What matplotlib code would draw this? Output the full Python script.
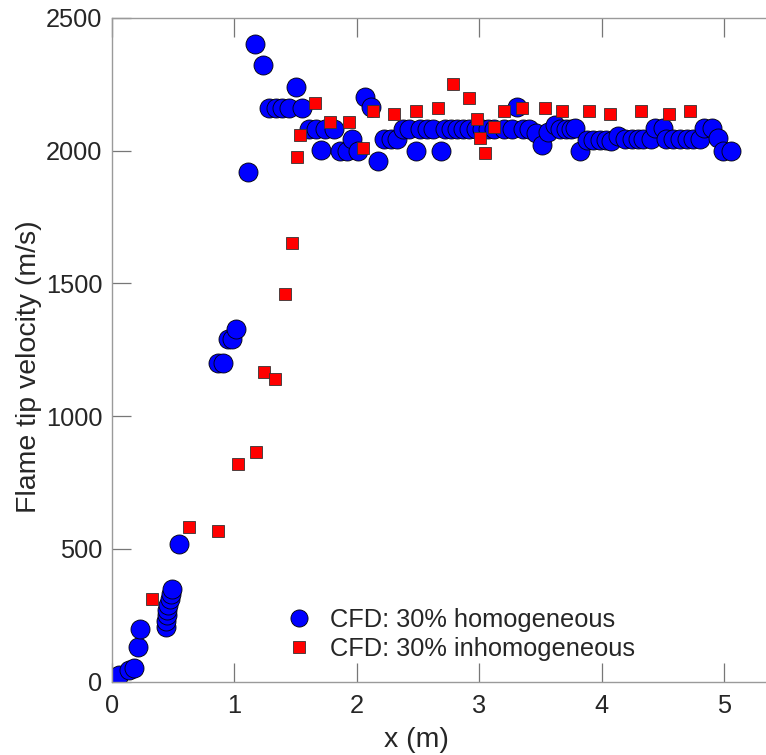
import numpy as np
import matplotlib.pyplot as plt

# homogeneous case (blue circles)
x_hom = [0.06, 0.14, 0.18, 0.21, 0.23,
         0.44, 0.44, 0.45, 0.45, 0.46, 0.47, 0.48, 0.49,
         0.55,
         0.87, 0.91, 0.95, 0.98, 1.01,
         1.11, 1.17, 1.23,
         1.28, 1.34, 1.39, 1.45, 1.50, 1.55,
         1.61, 1.67, 1.71, 1.74, 1.81, 1.86, 1.92, 1.96, 2.01, 2.07, 2.12, 2.17,
         2.22, 2.28, 2.33, 2.38, 2.43, 2.48, 2.52, 2.57, 2.62, 2.69, 2.72, 2.77,
         2.82, 2.87, 2.92, 2.97, 3.02, 3.07, 3.12, 3.20, 3.27, 3.31, 3.36, 3.41,
         3.46, 3.51, 3.56, 3.62, 3.66, 3.71, 3.75, 3.78, 3.82, 3.88, 3.93, 3.99,
         4.04, 4.08, 4.13, 4.19, 4.25, 4.30, 4.34, 4.40, 4.44, 4.50, 4.53, 4.58,
         4.64, 4.70, 4.75, 4.80, 4.84, 4.90, 4.95, 4.99, 5.06]
v_hom = [25, 42, 52, 130, 197,
         205, 228, 250, 270, 290, 310, 330, 348,
         517,
         1200, 1200, 1290, 1290, 1328,
         1920, 2402, 2323,
         2161, 2161, 2161, 2161, 2240, 2161,
         2082, 2082, 2002, 2082, 2082, 2000, 2000, 2043, 2000, 2203, 2165, 1960,
         2043, 2043, 2043, 2082, 2082, 2000, 2082, 2082, 2082, 2000, 2082, 2082,
         2082, 2082, 2082, 2082, 2082, 2082, 2082, 2082, 2082, 2163, 2082, 2082,
         2066, 2020, 2070, 2095, 2082, 2082, 2082, 2084, 2000, 2040, 2040, 2040,
         2040, 2035, 2055, 2043, 2043, 2043, 2043, 2043, 2085, 2085, 2043, 2043,
         2043, 2043, 2043, 2043, 2085, 2085, 2047, 2000, 2000]

# inhomogeneous case (red squares)
x_inh = [0.33, 0.63, 0.87, 1.03, 1.18, 1.24, 1.33, 1.41, 1.47, 1.51, 1.54,
         1.66, 1.78, 1.94, 2.05, 2.13, 2.30, 2.48, 2.66, 2.79, 2.92, 2.98,
         3.01, 3.05, 3.12, 3.20, 3.35, 3.54, 3.68, 3.90, 4.07, 4.32, 4.55, 4.72]
v_inh = [311, 583, 567, 820, 866, 1167, 1140, 1459, 1652, 1976, 2059,
         2180, 2108, 2108, 2010, 2150, 2138, 2150, 2160, 2250, 2198, 2120,
         2048, 1990, 2090, 2150, 2160, 2160, 2150, 2150, 2138, 2150, 2138, 2150]

xticks = [0, 1, 2, 3, 4, 5]
yticks = [0, 500, 1000, 1500, 2000, 2500]

plt.rcParams["font.family"] = ["Liberation Sans", "DejaVu Sans"]
txt = "#262626"
axcol = "#9a9a9a"

W, H = 766, 755
fig = plt.figure(figsize=(W / 100, H / 100), dpi=100)
ax = fig.add_axes([112 / W, (H - 681.5) / H, 5.5 * 122.4 / W, 663.5 / H])

ax.plot(x_hom, v_hom, "o", ms=13.7, mfc="blue", mec="black", mew=0.6,
        label="CFD: 30% homogeneous")
ax.plot(x_inh, v_inh, "s", ms=9.2, mfc="red", mec="#333333", mew=0.6,
        label="CFD: 30% inhomogeneous")

ax.set_xlim(0, 5.5)
ax.set_ylim(0, 2500)
ax.set_xticks(xticks)
ax.set_yticks(yticks)
for s in ax.spines.values():
    s.set_color(axcol)
    s.set_linewidth(1.0)
ax.tick_params(direction="in", length=14, width=0.9, color="#777777",
               labelsize=18.3, labelcolor=txt, top=True, right=True)
ax.tick_params(axis="x", pad=9)
ax.tick_params(axis="y", pad=7)

ax.set_xlabel("x (m)", fontsize=20.5, color=txt)
ax.set_ylabel("Flame tip velocity (m/s)", fontsize=20.5, color=txt)
ax.xaxis.set_label_coords(0.452, -0.068)
ax.yaxis.set_label_coords(-0.104, 0.474)

leg = ax.legend(loc="upper left", bbox_to_anchor=(286 / W, 1 - 608 / H),
                bbox_transform=fig.transFigure, frameon=False, fontsize=18.3,
                handlelength=1.0, handletextpad=0.72, labelspacing=0.2,
                borderpad=0, borderaxespad=0, labelcolor=txt, markerscale=0.9)

fig.savefig("out.png", dpi=100)
